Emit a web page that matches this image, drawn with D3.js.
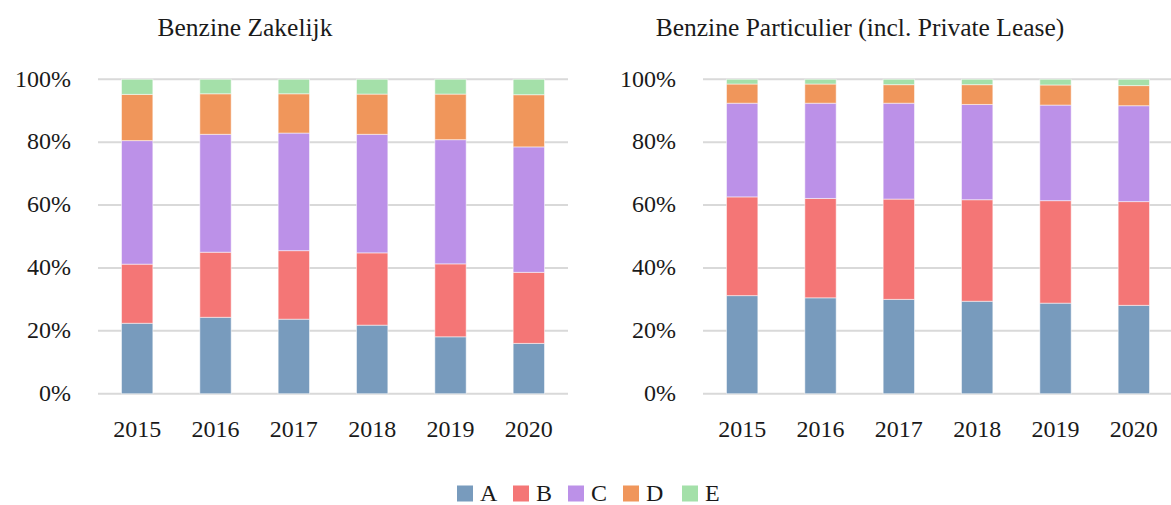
<!DOCTYPE html>
<html><head><meta charset="utf-8">
<script src="https://cdn.jsdelivr.net/npm/d3@7/dist/d3.min.js"></script>
<style>
body{margin:0;background:#fff;}
text{font-family:"Liberation Serif","DejaVu Serif",serif;fill:#1a1a1a;font-variant-numeric:oldstyle-nums;}
</style></head>
<body><svg id="c" width="1171" height="505"></svg>
<script>
const years = ["2015","2016","2017","2018","2019","2020"];
const keys = ["A","B","C","D","E"];
const colors = ["#789bbd","#f47676","#bc91e8","#f0965b","#a4e0a9"];
const yTicks = [0,0.2,0.4,0.6,0.8,1.0];
const titles = ["Benzine Zakelijk","Benzine Particulier (incl. Private Lease)"];

// Benzine Zakelijk shares (%)
const zakA = [22.4,24.3,23.7,21.8,18.1,16.0];
const zakB = [18.8,20.7,21.8,23.0,23.2,22.6];
const zakC = [39.3,37.5,37.4,37.7,39.5,39.9];
const zakD = [14.7,12.9,12.5,12.8,14.5,16.6];
const zakE = [4.8,4.6,4.6,4.7,4.7,4.9];

// Benzine Particulier shares (%)
const parA = [31.2,30.5,30.0,29.4,28.8,28.1];
const parB = [31.4,31.6,31.9,32.3,32.6,33.0];
const parC = [29.8,30.3,30.5,30.3,30.4,30.5];
const parD = [6.1,6.1,5.9,6.3,6.4,6.4];
const parE = [1.5,1.5,1.7,1.7,1.8,2.0];

const svg = d3.select("#c");
const y = d3.scaleLinear().domain([0,1]).range([393.7,79.3]);

function buildRows(series){
  return years.map((yr,i)=>{
    const row={year:yr};
    keys.forEach((k,j)=>row[k]=series[j][i]);
    const tot = d3.sum(keys,k=>row[k]);
    keys.forEach(k=>row[k]=row[k]/tot);
    return row;
  });
}

function panel(series, x0, x1, labelRight, title, titleX){
  const g = svg.append("g");
  const x = d3.scaleBand().domain(years).range([x0,x1]).paddingInner(0.6).paddingOuter(0.3);
  g.selectAll("line.grid").data(yTicks).join("line")
    .attr("x1",x0).attr("x2",x1)
    .attr("y1",d=>y(d)).attr("y2",d=>y(d))
    .attr("stroke","#d9d9d9").attr("stroke-width",2);
  g.selectAll("text.yl").data(yTicks).join("text")
    .attr("x",labelRight).attr("y",d=>y(d)).attr("dy","0.3em")
    .attr("text-anchor","end").attr("font-size",24)
    .text(d=>d3.format(".0%")(d));
  const stack = d3.stack().keys(keys)(buildRows(series));
  stack.forEach((layer,li)=>{
    g.selectAll("rect.l"+li).data(layer).join("rect")
      .attr("x",d=>x(d.data.year)).attr("width",x.bandwidth())
      .attr("y",d=>y(d[1])).attr("height",d=>y(d[0])-y(d[1]))
      .attr("fill",colors[li]).attr("stroke","#ffffff").attr("stroke-opacity",0.5).attr("stroke-width",1);
  });
  g.selectAll("text.xl").data(years).join("text")
    .attr("x",d=>x(d)+x.bandwidth()/2).attr("y",437)
    .attr("text-anchor","middle").attr("font-size",24).text(d=>d);
  g.append("text").attr("x",titleX).attr("y",36).attr("text-anchor","middle")
    .attr("font-size",25.5).text(title);
}

panel([zakA,zakB,zakC,zakD,zakE], 98, 568, 71, titles[0], 245);
panel([parA,parB,parC,parD,parE], 703, 1173, 676, titles[1], 860);

const legX = [457,513,568,623,682];
const lg = svg.append("g");
keys.forEach((k,i)=>{
  lg.append("rect").attr("x",legX[i]).attr("y",485.5).attr("width",16).attr("height",16).attr("fill",colors[i]);
  lg.append("text").attr("x",legX[i]+23).attr("y",501).attr("font-size",24).text(k);
});
</script></body></html>
